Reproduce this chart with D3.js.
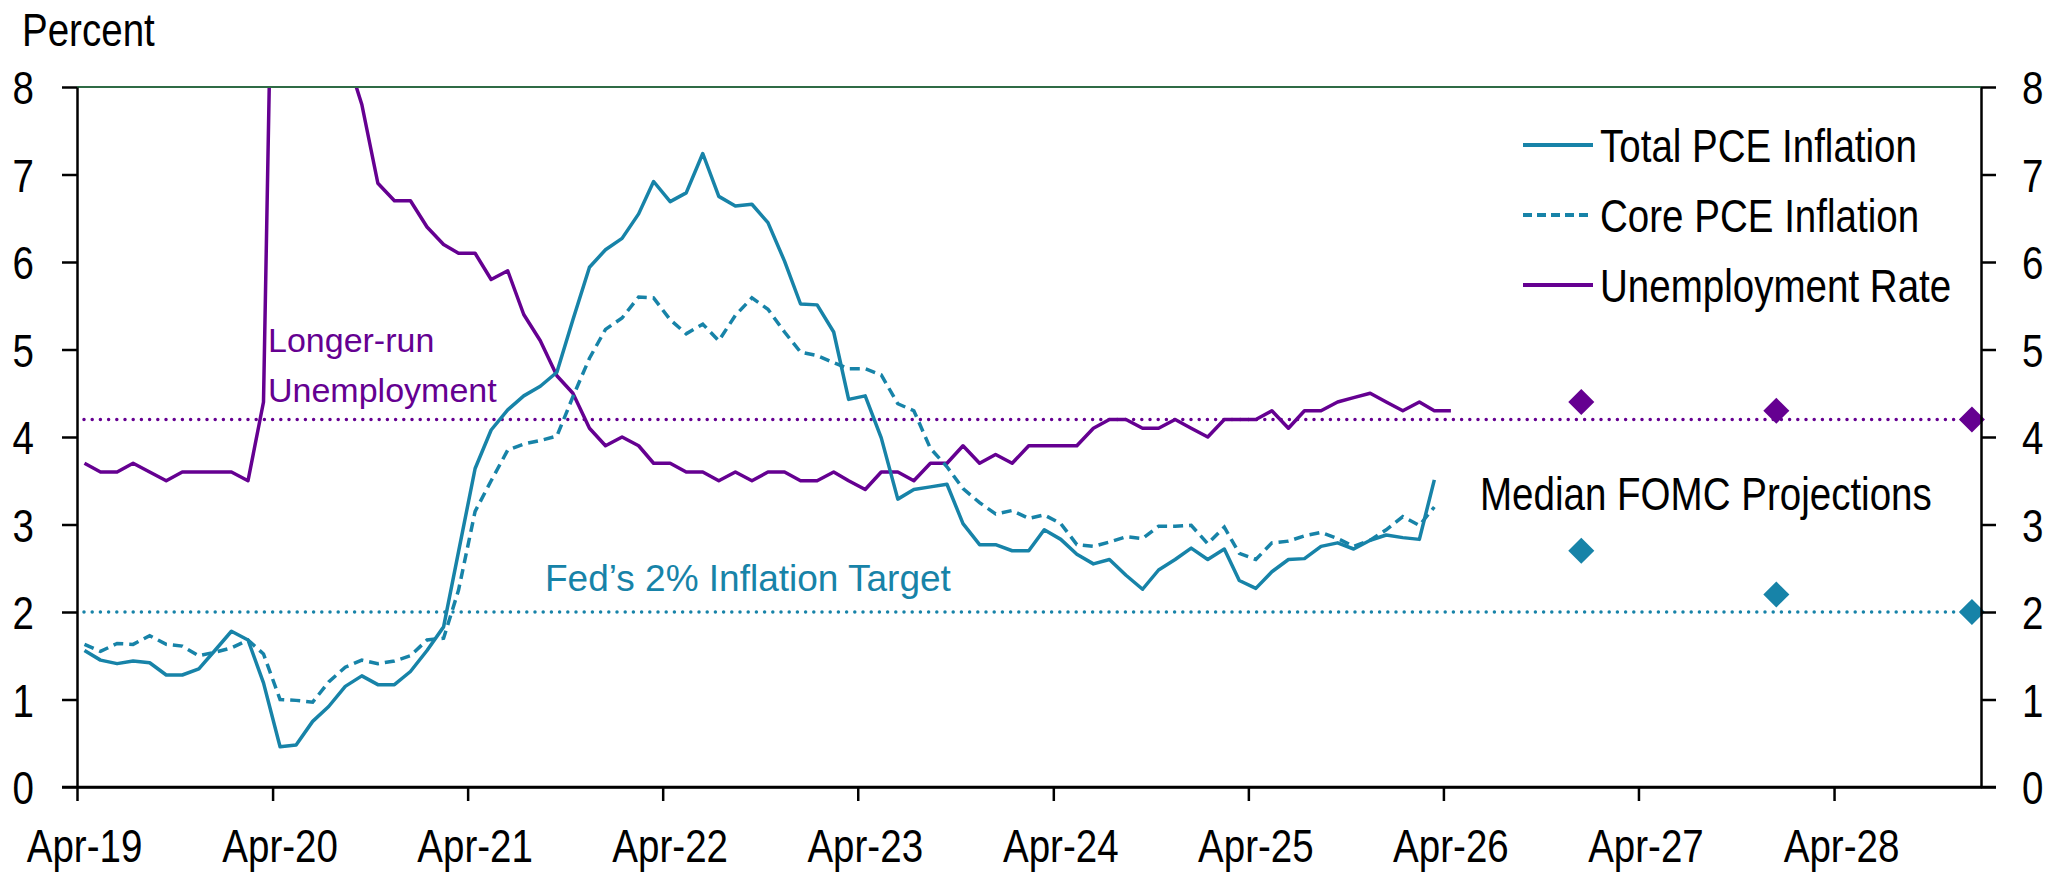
<!DOCTYPE html>
<html lang="en">
<head>
<meta charset="utf-8">
<title>PCE Inflation and Unemployment</title>
<script src="https://d3js.org/d3.v7.min.js"></script>
<style>
  body { margin: 0; background: #fff; }
  svg text { font-family: "Liberation Sans", Arial, sans-serif; fill: #000; }
</style>
</head>
<body>
<svg id="chart" width="2048" height="875"></svg>
<script>
// monthly series, first value = Apr 2019
const startMonth = new Date(2019, 3, 15);
const totalPce = [1.56, 1.45, 1.41, 1.44, 1.42, 1.28, 1.28, 1.35, 1.56, 1.78, 1.68, 1.19,
  0.46, 0.48, 0.75, 0.92, 1.15, 1.27, 1.17, 1.17, 1.32, 1.56, 1.83, 2.69,
  3.64, 4.08, 4.31, 4.47, 4.58, 4.74, 5.34, 5.94, 6.14, 6.27, 6.55, 6.92,
  6.69, 6.79, 7.24, 6.75, 6.64, 6.66, 6.45, 6.01, 5.52, 5.51, 5.20, 4.43,
  4.47, 3.99, 3.29, 3.40, 3.43, 3.46, 3.01, 2.77, 2.77, 2.70, 2.70, 2.94,
  2.83, 2.66, 2.55, 2.60, 2.42, 2.26, 2.48, 2.60, 2.73, 2.60, 2.72, 2.36,
  2.27, 2.46, 2.60, 2.61, 2.75, 2.79, 2.72, 2.82, 2.88, 2.85, 2.83, 3.51];
const corePce = [1.63, 1.55, 1.64, 1.63, 1.73, 1.63, 1.61, 1.50, 1.54, 1.59, 1.68, 1.52,
  1.00, 0.99, 0.97, 1.20, 1.37, 1.45, 1.41, 1.44, 1.50, 1.68, 1.70, 2.25,
  3.15, 3.50, 3.85, 3.92, 3.96, 4.01, 4.46, 4.90, 5.23, 5.36, 5.60, 5.59,
  5.34, 5.18, 5.29, 5.10, 5.39, 5.59, 5.46, 5.20, 4.97, 4.93, 4.85, 4.78,
  4.78, 4.71, 4.38, 4.30, 3.87, 3.66, 3.41, 3.25, 3.12, 3.16, 3.07, 3.11,
  3.01, 2.77, 2.75, 2.80, 2.86, 2.84, 2.98, 2.98, 2.99, 2.78, 2.97, 2.67,
  2.60, 2.79, 2.81, 2.87, 2.91, 2.84, 2.75, 2.82, 2.94, 3.09, 2.99, 3.20];
const unemployment = [3.7, 3.6, 3.6, 3.7, 3.6, 3.5, 3.6, 3.6, 3.6, 3.6, 3.5, 4.4,
  14.8, 13.2, 11.0, 10.2, 8.4, 7.8, 6.9, 6.7, 6.7, 6.4, 6.2, 6.1,
  6.1, 5.8, 5.9, 5.4, 5.1, 4.7, 4.5, 4.1, 3.9, 4.0, 3.9, 3.7,
  3.7, 3.6, 3.6, 3.5, 3.6, 3.5, 3.6, 3.6, 3.5, 3.5, 3.6, 3.5,
  3.4, 3.6, 3.6, 3.5, 3.7, 3.7, 3.9, 3.7, 3.8, 3.7, 3.9, 3.9,
  3.9, 3.9, 4.1, 4.2, 4.2, 4.1, 4.1, 4.2, 4.1, 4.0, 4.2, 4.2,
  4.2, 4.3, 4.1, 4.3, 4.3, 4.4, 4.45, 4.5, 4.4, 4.3, 4.4, 4.3, 4.3];

// median FOMC projections (Q4 of each year)
const projYears = [2026, 2027, 2028];
const projUnemployment = [4.4, 4.3, 4.2];
const projPce = [2.7, 2.2, 2.0];

const longRunUnemployment = 4.2;
const inflationTarget = 2.0;
const yTicks = [0, 1, 2, 3, 4, 5, 6, 7, 8];
const xTickYears = [2019, 2020, 2021, 2022, 2023, 2024, 2025, 2026, 2027, 2028];

const teal = "#1783a8";
const purple = "#650091";

const svg = d3.select("#chart");
const plotLeft = 77, plotRight = 1981, plotTop = 87, plotBottom = 787;

const x = d3.scaleTime()
  .domain([new Date(2019, 3, 1), new Date(2029, 0, 1)])
  .range([plotLeft, plotRight]);
const y = d3.scaleLinear().domain([0, 8]).range([plotBottom, plotTop]);

const monthDate = i => d3.timeMonth.offset(startMonth, i);

svg.append("defs").append("clipPath").attr("id", "plot")
  .append("rect").attr("x", plotLeft).attr("y", plotTop)
  .attr("width", plotRight - plotLeft).attr("height", plotBottom - plotTop);

// reference lines
function refLine(v, color) {
  svg.append("line")
    .attr("x1", plotLeft + 7).attr("x2", plotRight - 3)
    .attr("y1", y(v)).attr("y2", y(v))
    .attr("stroke", color).attr("stroke-width", 3.5)
    .attr("stroke-linecap", "round")
    .attr("stroke-dasharray", "0 8.2");
}
refLine(longRunUnemployment, purple);
refLine(inflationTarget, teal);

// series
const line = d3.line().x((d, i) => x(monthDate(i))).y(d => y(d));
const plot = svg.append("g").attr("clip-path", "url(#plot)");

plot.append("path").datum(unemployment).attr("d", line)
  .attr("fill", "none").attr("stroke", purple).attr("stroke-width", 3.5)
  .attr("stroke-linejoin", "round");
plot.append("path").datum(corePce).attr("d", line)
  .attr("fill", "none").attr("stroke", teal).attr("stroke-width", 3.5)
  .attr("stroke-dasharray", "10,6");
plot.append("path").datum(totalPce).attr("d", line)
  .attr("fill", "none").attr("stroke", teal).attr("stroke-width", 3.5)
  .attr("stroke-linejoin", "round");

// projection diamonds
const diamond = d3.symbol().type(d3.symbolSquare).size(340);
function diamonds(vals, color) {
  svg.append("g").selectAll("path")
    .data(vals)
    .join("path")
    .attr("d", diamond)
    .attr("fill", color)
    .attr("transform", (d, i) => `translate(${x(new Date(projYears[i], 11, 15))},${y(d)}) rotate(45)`);
}
diamonds(projUnemployment, purple);
diamonds(projPce, teal);

// top border
svg.append("line")
  .attr("x1", plotLeft).attr("x2", plotRight).attr("y1", plotTop).attr("y2", plotTop)
  .attr("stroke", "#2f6b45").attr("stroke-width", 2);

// axes
const yLeft = svg.append("g").attr("transform", `translate(${plotLeft},0)`)
  .call(d3.axisLeft(y).tickValues(yTicks).tickSize(15).tickSizeOuter(0).tickPadding(28));
const yRight = svg.append("g").attr("transform", `translate(${plotRight},0)`)
  .call(d3.axisRight(y).tickValues(yTicks).tickSize(15).tickSizeOuter(0).tickPadding(26));
const xAxis = svg.append("g").attr("transform", `translate(0,${plotBottom})`)
  .call(d3.axisBottom(x)
    .tickValues(xTickYears.map(yr => new Date(yr, 3, 1)))
    .tickFormat(d3.timeFormat("%b-%y"))
    .tickSize(14).tickSizeOuter(0));

[yLeft, yRight, xAxis].forEach(g => {
  g.selectAll(".domain").attr("stroke", "#000").attr("stroke-width", 2.5);
  g.selectAll(".tick line").attr("stroke", "#000").attr("stroke-width", 2.5);
  g.selectAll("text").attr("font-size", 47).attr("fill", "#000")
    .attr("font-family", null).attr("class", "narrow");
});
yLeft.selectAll("text").attr("dy", "0.36em");
yRight.selectAll("text").attr("dy", "0.36em");
xAxis.selectAll("text").attr("x", 7).attr("y", 75).attr("dy", 0);
// bottom line runs under both 0 ticks
svg.append("line").attr("x1", plotLeft - 15).attr("x2", plotRight + 15)
  .attr("y1", plotBottom).attr("y2", plotBottom)
  .attr("stroke", "#000").attr("stroke-width", 2.5);

// titles and annotations
svg.append("text").attr("class", "narrow").attr("x", 22).attr("y", 46)
  .attr("font-size", 47).text("Percent");

svg.append("text").attr("x", 268).attr("y", 352)
  .attr("font-size", 34).style("fill", purple).text("Longer-run");
svg.append("text").attr("x", 268).attr("y", 402)
  .attr("font-size", 34).style("fill", purple).text("Unemployment");
svg.append("text").attr("x", 545).attr("y", 591)
  .attr("font-size", 37).style("fill", teal).text("Fed\u2019s 2% Inflation Target");

svg.append("text").attr("class", "narrow").attr("x", 1480).attr("y", 510)
  .attr("font-size", 47).text("Median FOMC Projections");

// legend
const legendItems = [
  { label: "Total PCE Inflation", color: teal, dash: null },
  { label: "Core PCE Inflation", color: teal, dash: "9,5" },
  { label: "Unemployment Rate", color: purple, dash: null }
];
const legend = svg.append("g").selectAll("g")
  .data(legendItems)
  .join("g")
  .attr("transform", (d, i) => `translate(1523,${145 + i * 70})`);
legend.append("line").attr("x1", 0).attr("x2", 70)
  .attr("stroke", d => d.color).attr("stroke-width", 4)
  .attr("stroke-dasharray", d => d.dash);
legend.append("text").attr("class", "narrow").attr("x", 77).attr("y", 17)
  .attr("font-size", 47).text(d => d.label);

// the chart uses a narrow face; squeeze regular glyphs about their anchor
svg.selectAll("text.narrow").each(function () {
  const ax = +this.getAttribute("x") || 0;
  d3.select(this).attr("transform", `translate(${ax},0) scale(0.82,1) translate(${-ax},0)`);
});
</script>
</body>
</html>
